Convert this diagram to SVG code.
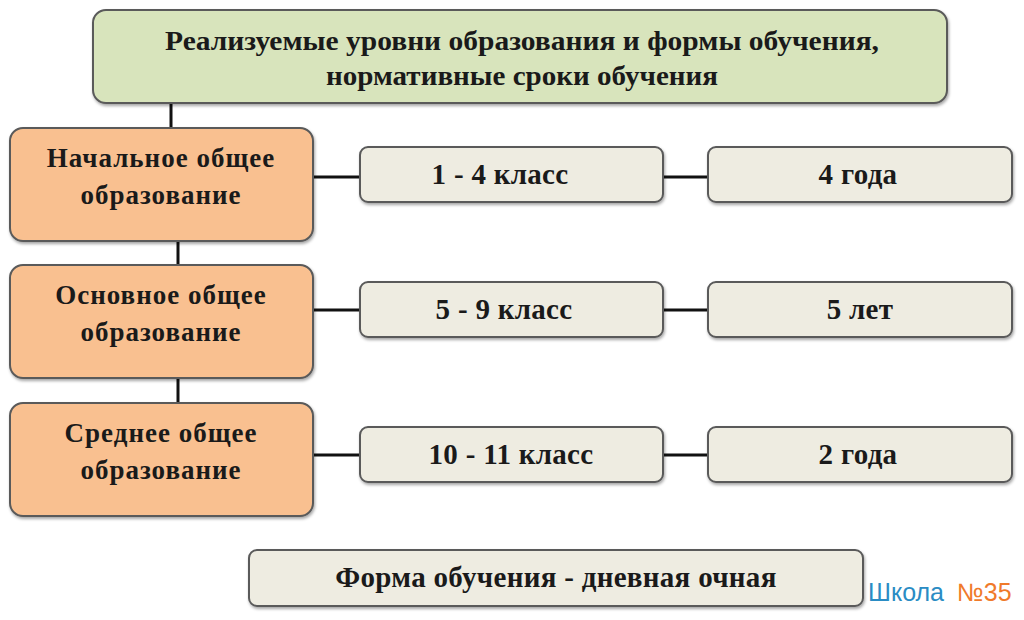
<svg xmlns="http://www.w3.org/2000/svg" width="1024" height="620" viewBox="0 0 1024 620">
<defs>
<filter id="sh" x="-5%" y="-10%" width="110%" height="130%">
<feDropShadow dx="1" dy="2" stdDeviation="1.5" flood-color="#000" flood-opacity="0.35"/>
</filter>
<style>
.box{stroke:#5a5a5a;stroke-width:2;filter:url(#sh)}
.top{fill:#d8e4bc}
.lvl{fill:#f9c090}
.cell{fill:#eeece1}
.t{font-family:"Liberation Serif","Times New Roman",serif;font-weight:bold;fill:#1a1a1a;text-anchor:middle}
.hd{font-size:28px}
.lv{font-size:27px;letter-spacing:1px}
.cl{font-size:29px;letter-spacing:0.3px}
.ln{stroke:#111;stroke-width:3;fill:none}
.wm{font-family:"Liberation Sans",Arial,sans-serif;font-size:25px}
</style>
</defs>
<rect width="1024" height="620" fill="#ffffff"/>
<g id="connectors">
<line class="ln" x1="171" y1="103" x2="171" y2="128"/>
<line class="ln" x1="178" y1="241" x2="178" y2="265"/>
<line class="ln" x1="178" y1="378" x2="178" y2="403"/>
<line class="ln" x1="313" y1="177" x2="360" y2="177"/>
<line class="ln" x1="663" y1="177" x2="708" y2="177"/>
<line class="ln" x1="313" y1="310" x2="360" y2="310"/>
<line class="ln" x1="663" y1="310" x2="708" y2="310"/>
<line class="ln" x1="313" y1="455" x2="360" y2="455"/>
<line class="ln" x1="663" y1="455" x2="708" y2="455"/>
</g>
<g id="header">
<rect class="box top" x="93" y="10" width="854" height="93" rx="13"/>
<text class="t hd" x="522" y="50" textLength="714" lengthAdjust="spacingAndGlyphs">Реализуемые уровни образования и формы  обучения,</text>
<text class="t hd" x="522" y="85" textLength="392" lengthAdjust="spacingAndGlyphs">нормативные сроки обучения</text>
</g>
<g id="level1">
<rect class="box lvl" x="10" y="128" width="303" height="113" rx="13"/>
<text class="t lv" x="161" y="167">Начальное общее</text>
<text class="t lv" x="161" y="204">образование</text>
</g>
<g id="level2">
<rect class="box lvl" x="10" y="265" width="303" height="113" rx="13"/>
<text class="t lv" x="161" y="304">Основное общее</text>
<text class="t lv" x="161" y="341">образование</text>
</g>
<g id="level3">
<rect class="box lvl" x="10" y="403" width="303" height="113" rx="13"/>
<text class="t lv" x="161" y="442">Среднее общее</text>
<text class="t lv" x="161" y="479">образование</text>
</g>
<g id="grade1">
<rect class="box cell" x="360" y="147" width="303" height="55" rx="8"/>
<text class="t cl" x="500" y="184">1 - 4 класс</text>
</g>
<g id="term1">
<rect class="box cell" x="708" y="147" width="304" height="55" rx="8"/>
<text class="t cl" x="858" y="184">4 года</text>
</g>
<g id="grade2">
<rect class="box cell" x="360" y="282" width="303" height="55" rx="8"/>
<text class="t cl" x="504" y="319">5 - 9 класс</text>
</g>
<g id="term2">
<rect class="box cell" x="708" y="282" width="304" height="55" rx="8"/>
<text class="t cl" x="860" y="319">5 лет</text>
</g>
<g id="grade3">
<rect class="box cell" x="360" y="427" width="303" height="55" rx="8"/>
<text class="t cl" x="511" y="464">10 - 11 класс</text>
</g>
<g id="term3">
<rect class="box cell" x="708" y="427" width="304" height="55" rx="8"/>
<text class="t cl" x="858" y="464">2 года</text>
</g>
<g id="form">
<rect class="box cell" x="249" y="550" width="614" height="56" rx="8"/>
<text class="t cl" x="556" y="587">Форма обучения - дневная очная</text>
</g>
<g id="watermark">
<text class="wm" x="868" y="601"><tspan fill="#2a8cc4">Школа</tspan><tspan fill="#f07a2a" dx="13">№35</tspan></text>
</g>
</svg>
